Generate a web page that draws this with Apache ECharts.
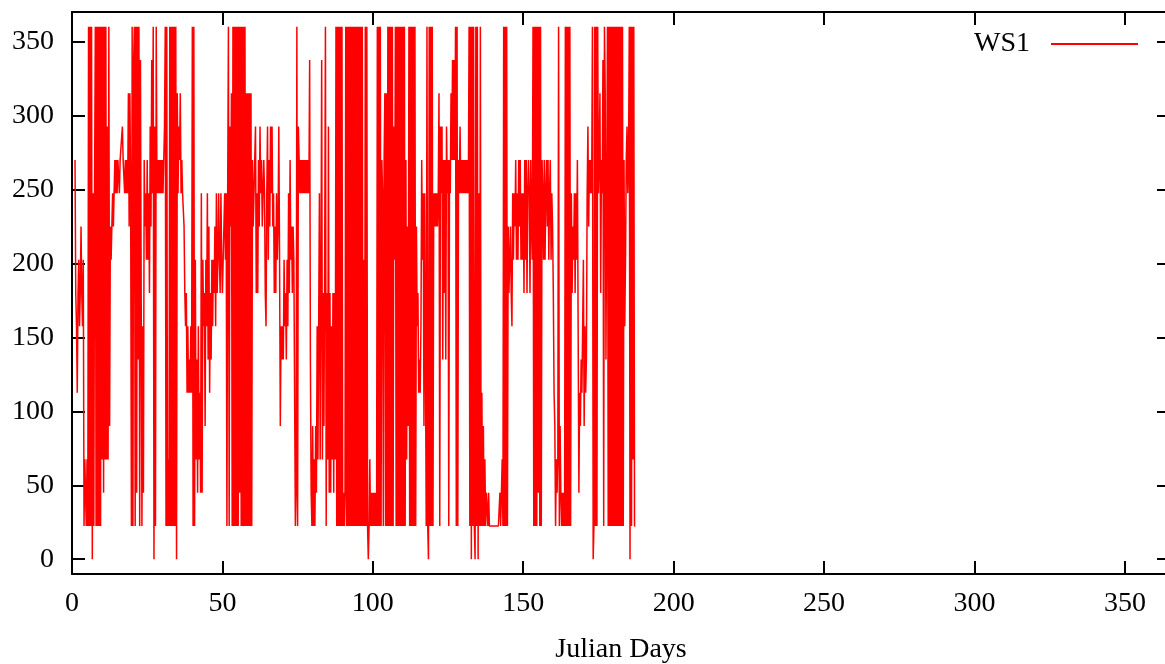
<!DOCTYPE html>
<html>
<head>
<meta charset="utf-8">
<script src="https://cdn.jsdelivr.net/npm/echarts@6/dist/echarts.min.js"></script>
<style>
html,body{margin:0;padding:0;background:#fff;}
#chart{width:1165px;height:664px;}
</style>
</head>
<body>
<div id="chart"></div>
<script>
// Wind direction series, sampled every 6 hours starting at Julian day 1
const seriesName = 'WS1';
const startDay = 1;
const stepDays = 0.25;
const xTicks = [0, 50, 100, 150, 200, 250, 300, 350];
const yTicks = [0, 50, 100, 150, 200, 250, 300, 350];
const ws1 = [
/*1*/ 270,180,157.5,112.5, 180,202.5,157.5,180, 225,180,157.5,202.5, 22.5,67.5,45,22.5,
/*5*/ 67.5,22.5,360,22.5, 360,22.5,360,0, 247.5,22.5,247.5,360, 22.5,360,22.5,360,
/*9*/ 22.5,360,22.5,360, 67.5,360,45,360, 67.5,360,67.5,292.5, 67.5,360,90,225,
/*13*/ 202.5,225,247.5,225, 247.5,270,247.5,270, 247.5,270,270,247.5, 270,270,270,292.5,
/*17*/ 270,270,247.5,270, 247.5,270,247.5,315, 225,315,247.5,22.5, 360,22.5,337.5,360,
/*21*/ 22.5,360,45,360, 135,360,22.5,337.5, 337.5,22.5,157.5,45, 270,225,247.5,202.5,
/*25*/ 270,202.5,247.5,180, 292.5,225,337.5,247.5, 360,0,292.5,22.5, 360,247.5,270,247.5,
/*29*/ 270,247.5,270,247.5, 270,247.5,270,292.5, 360,22.5,360,22.5, 67.5,22.5,360,22.5,
/*33*/ 360,22.5,360,22.5, 360,22.5,360,0, 315,247.5,292.5,270, 315,247.5,270,247.5,
/*37*/ 247.5,225,180,157.5, 180,112.5,157.5,112.5, 135,112.5,157.5,112.5, 360,22.5,360,22.5,
/*41*/ 202.5,67.5,135,45, 157.5,67.5,112.5,45, 247.5,45,202.5,157.5, 180,90,202.5,157.5,
/*45*/ 247.5,135,225,112.5, 180,135,202.5,157.5, 202.5,180,225,157.5, 247.5,180,202.5,247.5,
/*49*/ 202.5,180,247.5,202.5, 180,202.5,202.5,247.5, 202.5,247.5,22.5,247.5, 360,22.5,292.5,225,
/*53*/ 315,22.5,360,22.5, 360,22.5,360,22.5, 360,22.5,360,45, 360,22.5,360,22.5,
/*57*/ 360,22.5,360,22.5, 315,22.5,315,22.5, 315,22.5,315,22.5, 270,225,247.5,270,
/*61*/ 292.5,180,247.5,180, 270,225,292.5,247.5, 270,225,247.5,270, 247.5,180,157.5,247.5,
/*65*/ 292.5,202.5,270,225, 292.5,247.5,292.5,225, 247.5,180,225,180, 247.5,202.5,225,292.5,
/*69*/ 202.5,90,157.5,135, 157.5,135,202.5,157.5, 180,135,202.5,157.5, 247.5,180,270,202.5,
/*73*/ 225,180,225,202.5, 202.5,22.5,45,360, 22.5,292.5,270,247.5, 270,247.5,270,247.5,
/*77*/ 270,247.5,270,247.5, 270,247.5,270,247.5, 337.5,135,45,22.5, 90,22.5,67.5,22.5,
/*81*/ 90,45,157.5,67.5, 157.5,247.5,67.5,180, 337.5,67.5,180,90, 202.5,360,22.5,180,
/*85*/ 67.5,292.5,45,180, 45,157.5,67.5,180, 45,180,67.5,360, 22.5,360,22.5,360,
/*89*/ 22.5,360,22.5,360, 22.5,45,22.5,45, 360,22.5,360,22.5, 360,22.5,360,22.5,
/*93*/ 360,22.5,360,22.5, 360,22.5,360,22.5, 360,22.5,360,22.5, 360,22.5,360,22.5,
/*97*/ 202.5,22.5,360,22.5, 360,22.5,0,22.5, 67.5,22.5,45,22.5, 45,22.5,45,22.5,
/*101*/ 45,22.5,360,22.5, 360,22.5,360,22.5, 270,247.5,22.5,270, 315,22.5,315,22.5,
/*105*/ 360,22.5,360,22.5, 360,22.5,360,22.5, 292.5,202.5,360,22.5, 360,22.5,360,22.5,
/*109*/ 360,22.5,360,22.5, 360,22.5,360,22.5, 270,67.5,225,90, 360,22.5,360,22.5,
/*113*/ 360,22.5,360,22.5, 360,22.5,225,157.5, 180,112.5,135,112.5, 157.5,270,202.5,247.5,
/*117*/ 90,247.5,135,22.5, 360,22.5,0,360, 22.5,360,22.5,360, 22.5,247.5,225,247.5,
/*121*/ 225,247.5,225,247.5, 315,22.5,292.5,247.5, 292.5,135,270,180, 270,135,292.5,247.5,
/*125*/ 270,22.5,270,247.5, 315,270,337.5,270, 337.5,270,360,22.5, 360,22.5,270,247.5,
/*129*/ 292.5,247.5,270,247.5, 270,247.5,270,247.5, 270,247.5,270,247.5, 360,22.5,360,0,
/*133*/ 360,22.5,360,22.5, 0,360,22.5,360, 0,247.5,22.5,360, 22.5,112.5,22.5,90,
/*137*/ 22.5,67.5,22.5,45, 45,22.5,45,22.5, 22.5,22.5,22.5,22.5, 22.5,22.5,22.5,22.5,
/*141*/ 22.5,22.5,22.5,22.5, 22.5,45,22.5,45, 67.5,22.5,360,22.5, 360,22.5,360,22.5,
/*145*/ 225,180,202.5,225, 180,157.5,247.5,202.5, 247.5,225,270,202.5, 247.5,202.5,270,225,
/*149*/ 270,202.5,247.5,202.5, 247.5,180,270,202.5, 270,180,247.5,270, 247.5,180,270,225,
/*153*/ 202.5,360,22.5,360, 22.5,360,22.5,360, 45,360,22.5,360, 22.5,270,247.5,202.5,
/*157*/ 270,202.5,247.5,270, 225,270,202.5,247.5, 270,202.5,247.5,225, 180,112.5,90,22.5,
/*161*/ 67.5,45,67.5,360, 22.5,90,45,22.5, 45,22.5,45,22.5, 360,22.5,360,22.5,
/*165*/ 360,22.5,360,22.5, 247.5,180,225,202.5, 247.5,180,247.5,202.5, 270,157.5,45,112.5,
/*169*/ 90,135,112.5,157.5, 202.5,90,157.5,112.5, 135,247.5,292.5,225, 270,247.5,270,247.5,
/*173*/ 360,0,22.5,360, 22.5,360,22.5,360, 247.5,270,315,180, 270,247.5,337.5,22.5,
/*177*/ 360,315,135,247.5, 360,22.5,360,22.5, 360,22.5,360,22.5, 360,22.5,360,22.5,
/*181*/ 360,22.5,360,22.5, 360,22.5,360,22.5, 360,22.5,270,157.5, 202.5,270,292.5,247.5,
/*185*/ 270,360,0,360, 22.5,360,67.5,360, 22.5,22.5
];

const points = ws1.map((v, i) => [startDay + i * stepDays, v]);

const font = 'Liberation Serif, Times New Roman, serif';
function tick(values) {
  return { show: true, inside: true, length: 13, customValues: values, lineStyle: { color: '#000', width: 2 } };
}
const axisLine = { show: true, onZero: false, lineStyle: { color: '#000', width: 2 } };

const chart = echarts.init(document.getElementById('chart'), null, { renderer: 'canvas' });
chart.setOption({
  animation: false,
  backgroundColor: '#fff',
  grid: { left: 72, top: 12, width: 1098, height: 562, containLabel: false, outerBoundsMode: 'none' },
  legend: {
    data: [{ name: seriesName, icon: 'rect' }],
    right: 22, top: 25,
    align: 'right',
    itemWidth: 87, itemHeight: 2,
    itemStyle: { color: '#ff0000' },
    textStyle: { fontFamily: font, fontSize: 28, color: '#000', padding: [0, 16, 0, 0] }
  },
  xAxis: [
    {
      type: 'value', position: 'bottom', min: 0, max: 365,
      axisLine: axisLine, axisTick: tick(xTicks), splitLine: { show: false },
      name: 'Julian Days', nameLocation: 'middle', nameGap: 62,
      nameTextStyle: { fontFamily: font, fontSize: 28, color: '#000' },
      axisLabel: { customValues: xTicks, fontFamily: font, fontSize: 28, color: '#000', margin: 16 }
    },
    {
      type: 'value', position: 'top', min: 0, max: 365,
      axisLine: axisLine, axisTick: tick(xTicks), splitLine: { show: false },
      axisLabel: { show: false }
    }
  ],
  yAxis: [
    {
      type: 'value', position: 'left', min: -10, max: 370,
      axisLine: axisLine, axisTick: tick(yTicks), splitLine: { show: false },
      axisLabel: { customValues: yTicks, fontFamily: font, fontSize: 28, color: '#000', margin: 18 }
    },
    {
      type: 'value', position: 'right', min: -10, max: 370,
      axisLine: axisLine, axisTick: tick(yTicks), splitLine: { show: false },
      axisLabel: { show: false }
    }
  ],
  series: [{
    name: seriesName,
    type: 'line',
    xAxisIndex: 0, yAxisIndex: 0,
    data: points,
    symbol: 'none',
    showSymbol: false,
    lineStyle: { color: '#ff0000', width: 1.5 },
    itemStyle: { color: '#ff0000' },
    emphasis: { disabled: true }
  }]
});
</script>
</body>
</html>
